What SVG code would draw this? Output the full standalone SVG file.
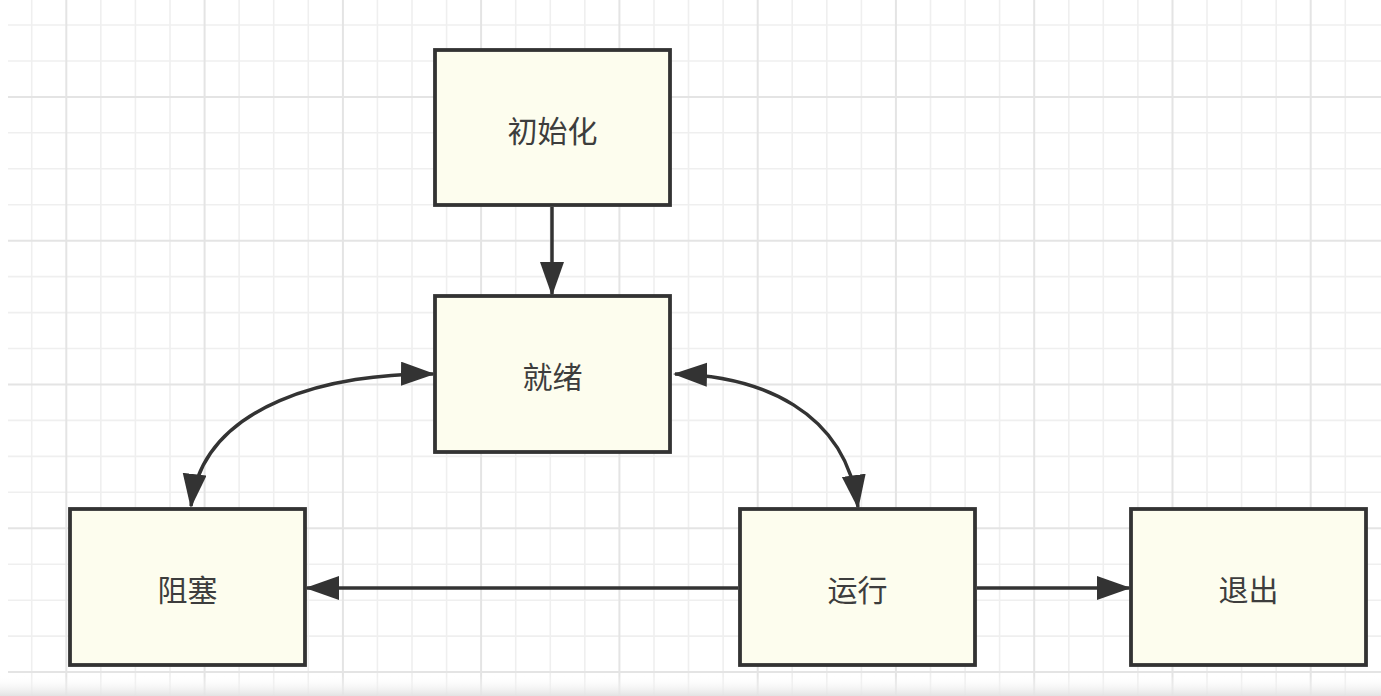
<svg xmlns="http://www.w3.org/2000/svg" width="1381" height="696" viewBox="0 0 1381 696">
  <defs>
    <style>
      .node rect { fill: #fdfdee; stroke: #333333; stroke-width: 3.8; }
      .node text { font-family: "Noto Sans CJK SC", "Noto Sans", sans-serif; font-size: 30px; fill: #3d3d3d; text-anchor: middle; dominant-baseline: central; }
      .edge { fill: none; stroke: #333333; stroke-width: 3.5; }
      .gminor { stroke: #efefef; stroke-width: 1.6; }
      .gmajor { stroke: #e4e4e4; stroke-width: 2; }
    </style>
    <marker id="arrow" markerUnits="userSpaceOnUse" markerWidth="36" markerHeight="26" refX="32" refY="12" orient="auto-start-reverse" viewBox="0 0 36 26">
      <path d="M0,0 L34,12 L0,24 Z" fill="#333333"/>
    </marker>
    <linearGradient id="bottomShade" x1="0" y1="0" x2="0" y2="1">
      <stop offset="0" stop-color="#ffffff" stop-opacity="0"/>
      <stop offset="1" stop-color="#e2e2e2"/>
    </linearGradient>
  </defs>
  <rect width="1381" height="696" fill="#ffffff"/>
  <g id="grid">
    <g class="gminor">
      <line x1="31.7" y1="0" x2="31.7" y2="696"/>
      <line x1="100.8" y1="0" x2="100.8" y2="696"/>
      <line x1="135.4" y1="0" x2="135.4" y2="696"/>
      <line x1="170" y1="0" x2="170" y2="696"/>
      <line x1="239.1" y1="0" x2="239.1" y2="696"/>
      <line x1="273.7" y1="0" x2="273.7" y2="696"/>
      <line x1="308.3" y1="0" x2="308.3" y2="696"/>
      <line x1="377.4" y1="0" x2="377.4" y2="696"/>
      <line x1="412" y1="0" x2="412" y2="696"/>
      <line x1="446.6" y1="0" x2="446.6" y2="696"/>
      <line x1="515.7" y1="0" x2="515.7" y2="696"/>
      <line x1="550.3" y1="0" x2="550.3" y2="696"/>
      <line x1="584.8" y1="0" x2="584.8" y2="696"/>
      <line x1="654" y1="0" x2="654" y2="696"/>
      <line x1="688.5" y1="0" x2="688.5" y2="696"/>
      <line x1="723.1" y1="0" x2="723.1" y2="696"/>
      <line x1="792.2" y1="0" x2="792.2" y2="696"/>
      <line x1="826.8" y1="0" x2="826.8" y2="696"/>
      <line x1="861.4" y1="0" x2="861.4" y2="696"/>
      <line x1="930.5" y1="0" x2="930.5" y2="696"/>
      <line x1="965.1" y1="0" x2="965.1" y2="696"/>
      <line x1="999.6" y1="0" x2="999.6" y2="696"/>
      <line x1="1068.8" y1="0" x2="1068.8" y2="696"/>
      <line x1="1103.3" y1="0" x2="1103.3" y2="696"/>
      <line x1="1137.9" y1="0" x2="1137.9" y2="696"/>
      <line x1="1207" y1="0" x2="1207" y2="696"/>
      <line x1="1241.6" y1="0" x2="1241.6" y2="696"/>
      <line x1="1276.2" y1="0" x2="1276.2" y2="696"/>
      <line x1="1345.3" y1="0" x2="1345.3" y2="696"/>
      <line x1="8" y1="25" x2="1381" y2="25"/>
      <line x1="8" y1="61" x2="1381" y2="61"/>
      <line x1="8" y1="132.8" x2="1381" y2="132.8"/>
      <line x1="8" y1="168.8" x2="1381" y2="168.8"/>
      <line x1="8" y1="204.7" x2="1381" y2="204.7"/>
      <line x1="8" y1="276.6" x2="1381" y2="276.6"/>
      <line x1="8" y1="312.6" x2="1381" y2="312.6"/>
      <line x1="8" y1="348.5" x2="1381" y2="348.5"/>
      <line x1="8" y1="420.4" x2="1381" y2="420.4"/>
      <line x1="8" y1="456.4" x2="1381" y2="456.4"/>
      <line x1="8" y1="492.3" x2="1381" y2="492.3"/>
      <line x1="8" y1="564.2" x2="1381" y2="564.2"/>
      <line x1="8" y1="600.2" x2="1381" y2="600.2"/>
      <line x1="8" y1="636.1" x2="1381" y2="636.1"/>
    </g>
    <g class="gmajor">
      <line x1="66.3" y1="0" x2="66.3" y2="696"/>
      <line x1="204.6" y1="0" x2="204.6" y2="696"/>
      <line x1="342.9" y1="0" x2="342.9" y2="696"/>
      <line x1="481.1" y1="0" x2="481.1" y2="696"/>
      <line x1="619.4" y1="0" x2="619.4" y2="696"/>
      <line x1="757.7" y1="0" x2="757.7" y2="696"/>
      <line x1="895.9" y1="0" x2="895.9" y2="696"/>
      <line x1="1034.2" y1="0" x2="1034.2" y2="696"/>
      <line x1="1172.5" y1="0" x2="1172.5" y2="696"/>
      <line x1="1310.7" y1="0" x2="1310.7" y2="696"/>
      <line x1="8" y1="96.9" x2="1381" y2="96.9"/>
      <line x1="8" y1="240.7" x2="1381" y2="240.7"/>
      <line x1="8" y1="384.5" x2="1381" y2="384.5"/>
      <line x1="8" y1="528.3" x2="1381" y2="528.3"/>
      <line x1="8" y1="672" x2="1381" y2="672"/>
    </g>
  </g>
  <rect x="0" y="676" width="1381" height="20" fill="url(#bottomShade)"/>

  <g id="connectors">
    <path class="edge" d="M552,207 L552,294" marker-end="url(#arrow)"/>
    <path class="edge" d="M433,374 C 335,373 203,402 191,506" marker-start="url(#arrow)" marker-end="url(#arrow)"/>
    <path class="edge" d="M675,374 C 760,376 845,410 858,507" marker-start="url(#arrow)" marker-end="url(#arrow)"/>
    <path class="edge" d="M738,588 L307,588" marker-end="url(#arrow)"/>
    <path class="edge" d="M977,588 L1129,588" marker-end="url(#arrow)"/>
  </g>

  <g id="node-init" class="node">
    <rect x="435" y="50" width="235" height="155"/>
    <text x="552.5" y="129">初始化</text>
  </g>
  <g id="node-ready" class="node">
    <rect x="435" y="296" width="235" height="156"/>
    <text x="552.5" y="375">就绪</text>
  </g>
  <g id="node-blocked" class="node">
    <rect x="70" y="509" width="235" height="156"/>
    <text x="187.5" y="588">阻塞</text>
  </g>
  <g id="node-running" class="node">
    <rect x="740" y="509" width="235" height="156"/>
    <text x="857.5" y="588">运行</text>
  </g>
  <g id="node-exit" class="node">
    <rect x="1131" y="509" width="235" height="156"/>
    <text x="1248.5" y="588">退出</text>
  </g>
</svg>
